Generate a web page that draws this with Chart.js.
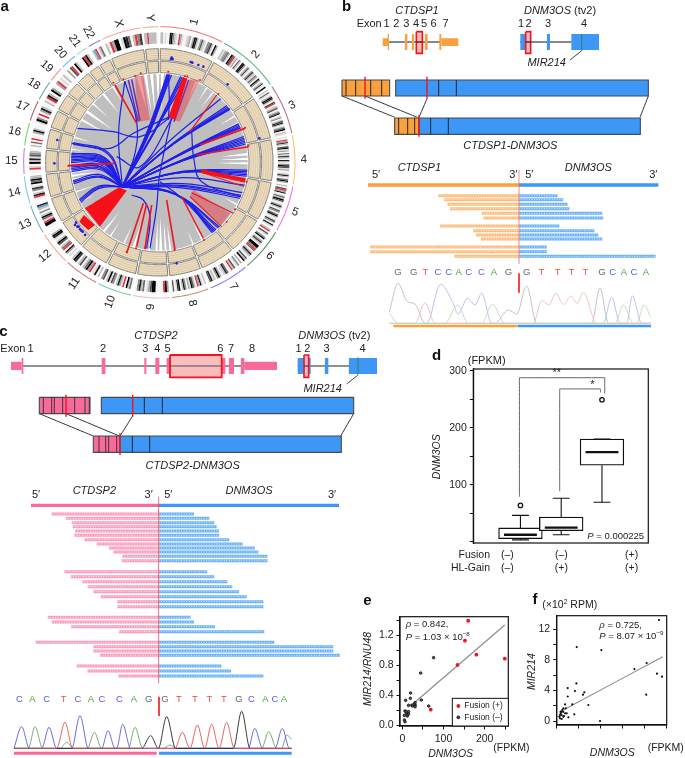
<!DOCTYPE html>
<html><head><meta charset="utf-8">
<style>html,body{margin:0;padding:0;background:#fff;width:685px;height:758px;overflow:hidden}canvas{position:absolute}</style>
<script src="https://cdn.jsdelivr.net/npm/chart.js@4"></script></head><body>
<script>
/* ---------- panel a : circos ---------- */
const chromNames=['1','2','3','4','5','6','7','8','9','10','11','12','13','14','15','16','17','18','19','20','21','22','X','Y'];
const chromMb=[249,243,198,191,181,171,159,146,141,135,135,133,115,107,102,90,81,78,59,63,48,51,155,59];
const chromArc=['#f47a7a','#66b383','#b5749f','#fbc56c','#f073e6','#4f9c5c','#8080f0','#c98d7e','#f0b9d8','#70cf98','#d87d7d','#f9a88c','#70a8dc','#70d8d0','#c880e0','#66e06a','#b06262','#60b0a0','#f09090','#70b0f0','#90f0c0','#a070d0','#f9a8a0','#e8b890'];
const chromBands=['220100894210r31001230398203621045720930','0213452096r13052089402610372153084026109','20510398207r01360258014027820369021','10r3720691305173082049613002820593','206r380152961038206405920173081','2r06104903720994r5028310629','3041062r0058210394021860','20183r02691304820971060','39r000099631052840','05290r1382046192064','20810r39520620792','10380r5206920189300','0099r15920402b80','00r820471095932','00r1092816420','2050r00039200','1940r03820','20r820930','3r01020','306r0920','09r920','2br0250','20r3990198502r47','22r222220'];
const innerDiscGaps=[[345,348,170],[350,352,150],[354,356,140],[358,0,165],[1,3,150],[15,16.5,190],[24,25.5,205],[32,33,215],[37,38,205],[58,59,215],[63,64,205],[84,85.5,190],[87,88.5,175],[90,91.5,165],[96,97,200],[118,119,215],[150,151.5,205],[157,158,220],[172,173.5,190],[175,176.5,180],[178,180,165],[181,182.5,175],[186,187,210],[196,197.5,190],[203,204,205],[213,214,215],[218,219.5,190],[243,244,220],[250,251,205],[258,259.5,190],[260.5,262,185],[263,265,170],[278,279,220],[286,287,215],[298,299.5,180],[304,306,170],[311,312,205],[320,321.5,190],[328,329,215]];
const hubFan=[[5,8],[5.5,9],[6,10],[6.5,11],[7,12],[8,6],[14,6],[15,5],[16,4],[18,-2],[44,-8],[50,-10],[51,-10],[52,-12],[52.5,-13],[53,-14],[64,-5],[65,-5],[66,-6],[67,-8],[73,-6],[74,-7],[75,-8],[76,-10],[77,-12],[78,-14],[95,-22],[96,-23],[97,-24],[98,-25],[99,-28],[105,-25],[110,-18],[112,-17],[113,-16],[114,-14],[137,-40],[138,-42],[140,-46],[141,-48],[142,-50],[143,-54],[243,20],[244,21],[245,22],[256,24],[257,25],[258,28],[264,30],[265,32],[266,35],[267,32],[268,36],[270,38],[271,39],[272,40],[273,41],[274,42],[275,43],[276,44],[282,46],[283,48],[337,-15]];
const blueChords=[[[232,385],[340,395],[420,410],[520,345]],[[215,430],[330,445],[400,400],[510,350]],[[375,245],[410,365],[405,460],[372,548]],[[450,745],[470,620],[478,530],[515,350]],[[440,745],[450,650],[430,600],[395,585]],[[575,395],[582,480],[605,545],[722,590]],[[690,327],[620,365],[575,395]],[[505,228],[508,300],[505,360]],[[722,384],[640,410],[590,440]],[[640,695],[590,640],[540,590],[480,545]],[[350,470],[420,500],[520,350]]];
const redLines=[[345,255,410,370,1.6],[650,285,570,395,1.2],[735,385,600,435,1.8],[745,440,590,465,1.6],[525,750,500,600,1.6],[610,715,545,590,1.4],[380,760,430,610,1.6],[410,740,440,610,1.6],[435,745,455,615,1.6],[205,497,345,490,1.6],[700,640,575,578,1.2],[665,680,570,590,1.2],[732,560,600,515,1]];
const redSolidWedges=[[[548,232],[562,236],[525,358],[505,352]],[[737,535],[735,548],[605,520],[605,508]],[[357,562],[380,572],[300,680],[255,625]],[[252,645],[285,675],[265,690],[238,665]]];
const redPaleWedges=[[[405,228],[430,228],[450,360],[415,365]],[[570,238],[597,240],[540,365],[520,360]],[[690,640],[665,675],[570,590],[580,570]]];
const purpleLines=[[385,240,415,365],[395,238,420,362],[566,240,522,365]];
const trackBlue=[[515,173],[518,177],[513,177],[572,186],[577,188],[595,195],[610,200],[683,253],[778,415],[172,420],[163,490],[530,790],[225,675],[232,680],[240,688],[248,695],[255,705],[228,668],[236,680],[244,692]];
const trackRed=[[505,215],[555,228],[562,229],[600,240],[655,282],[735,383],[745,437],[740,545],[705,628],[680,665],[612,720],[523,750],[435,745],[408,745],[380,755],[205,497],[340,248],[370,238],[405,228],[422,220]];

/* ---------- panel b ---------- */
const b1Utr=[[128,145],[304,355]];
const b1Exons=[[143,147],[195,202],[216,222],[228,248],[255,263],[298,304]];
const b1ExonNums=[['1',140],['2',169],['3',199],['4',228],['5',252],['6',281],['7',317]];
const b2Exons=[[541,563],[563,572],[621,630],[694,777]];
const b2ExonNums=[['1',543],['2',566],['3',624],['4',732]];
const bOrangeDiv=[18,47,92,125];const bBlueDiv=[296,349];
const bFusOrangeDiv=[176,203,224];const bFusBlueDiv=[272,325];
const bReads=[[205,563,107],[222,580,119],[232,593,133],[240,598,146],[335,697,160],[340,700,174],[210,568,198],[310,673,212],[318,685,225],[333,697,237],[0,530,261],[0,530,275],[253,857,289]];
const bBases=[['G',84],['G',131],['T',166],['C',204],['C',236],['A',266],['C',296],['C',334],['A',372],['G',415],['G',470],['T',514],['T',563],['T',604],['T',646],['G',696],['C',728],['A',762],['C',792],['A',828]];
const bTraceG=[[58,455],[84,370],[112,425],[135,432],[165,490],[375,490],[415,450],[440,462],[470,378],[500,490],[665,490],[690,383],[715,490],[842,490]];
const bTraceC=[[58,490],[170,490],[212,373],[245,420],[265,462],[292,415],[315,435],[335,400],[365,490],[700,490],[725,412],[750,490],[770,490],[787,408],[815,490],[842,490]];
const bTraceT=[[58,460],[85,490],[135,490],[165,428],[195,490],[490,490],[515,422],[537,435],[557,400],[580,433],[603,408],[622,430],[640,397],[680,490],[842,490]];
const bTraceA=[[58,490],[225,490],[263,435],[295,490],[335,490],[367,433],[405,490],[735,490],[760,435],[790,490],[800,490],[822,435],[842,470]];

/* ---------- panel c ---------- */
const c1Utr=[[33,65],[733,831]];
const c1Exons=[[65,70],[305,316],[433,439],[466,478],[500,510],[665,676],[687,702],[723,733]];
const c1ExonNums=[['1',92],['2',309],['3',436],['4',472],['5',503],['6',661],['7',693],['8',756]];
const c2Exons=[[893,932],[975,985],[1047,1131]];
const c2ExonNums=[['1',896],['2',922],['3',980],['4',1088]];
const cPinkDiv=[130,155,163,188,224,255,268];const cBlueDiv=[433,487];
const cFusPinkDiv=[297,317,326,350];const cFusBlueDiv=[397,449];
const cReads=[[155,582,102],[197,628,115],[215,643,128],[218,650,140],[225,657,153],[223,657,166],[253,688,179],[290,728,192],[327,765,204],[340,775,216],[367,803,229],[365,803,242],[193,622,275],[212,643,290],[247,682,305],[263,697,320],[280,717,335],[302,740,350],[352,790,365],[352,790,380],[143,572,412],[155,582,426],[213,645,440],[357,793,455],[107,823,487],[280,1000,500],[280,1000,513],[300,1020,526],[230,664,558],[262,693,573],[355,790,588]];
const cBases=[['C',58],['A',97],['C',140],['T',191],['C',234],['A',273],['C',306],['C',358],['A',402],['G',446],['G',495],['T',537],['T',585],['T',628],['T',672],['G',717],['C',754],['A',796],['C',825],['A',852]];
const cTraceG=[[42,805],[425,805],[452,767],[475,805],[500,710],[527,805],[700,805],[725,694],[750,805],[875,805]];
const cTraceC=[[42,805],[65,740],[88,805],[125,805],[147,742],[170,805],[215,805],[240,707],[265,805],[305,805],[324,752],[345,805],[350,805],[368,733],[392,805],[745,805],[764,745],[788,805],[825,805],[847,745],[868,805],[875,805]];
const cTraceT=[[42,805],[170,805],[195,727],[218,805],[525,805],[547,757],[570,805],[592,735],[614,805],[635,733],[657,805],[680,727],[703,805],[875,805]];
const cTraceA=[[42,805],[85,805],[105,740],[128,805],[180,805],[200,787],[220,805],[262,805],[283,757],[305,805],[385,805],[405,742],[428,805],[490,805],[510,795],[530,805],[785,805],[806,755],[830,805],[845,805],[860,765],[875,778]];

/* ---------- panel d ---------- */
const groupPos=[1,2,3];
const boxQ1=[5,19,134],boxMedian=[12,24.5,157],boxQ3=[24,43,180],whiskerLo=[3,12,69],whiskerHi=[46,76,180];
const outlierX=[1,3],outlierY=[63.5,249];
const bracketOuter=[[0.975,78.6],[0.975,287.7],[3.068,287.7],[3.068,260]];
const bracketInner=[[1.963,88.5],[1.963,268],[2.963,268],[2.963,262]];
const dTickLabels=[100,200,300];
const fusionRow=['(–)','(–)','(+)'],hlGainRow=['(–)','(+)','(+)'];

/* ---------- panel e ---------- */
const eFusionPos=[[160,1.39],[152,1.124],[180,.938],[249,.884],[134,.80],[69,.204]];
const eFusionNeg=[[76,.898],[44.5,.693],[20,.427],[8,.329],[19.5,.356],[46,.333],[64,.253],[15,.262],[23,.262],[31,.267],[28,.276],[31,.298],[31,.244],[6.5,.187],[15,.178],[10.5,.156],[5,.129],[12,.12],[5,.067],[6.5,.044],[15,.147],[9,.178],[25,.253]];
const eFit=[[22.7,.267],[249,1.333]];

/* ---------- panel f ---------- */
const fPoints=[[90.6,13.17],[15.8,9.65],[38.2,9.26],[68.2,6.78],[79.4,7.57],[88.8,6.17],[93.3,5.78],[79,3.43],[15.5,4.91],[7.6,4.3],[14.2,3.9],[22.7,3.74],[21.5,3.43],[7.6,3.2],[26.4,2.09],[37,0],[5.2,2.17],[11.8,2.17],[13.6,.87],[3.6,1.65],[5.8,1.65],[8.2,.48],[6.7,1],[3.6,1.2],[1.2,1],[2.1,.78],[4.2,.65],[.6,.35],[2.1,.26],[3.6,.57],[1.2,1.22],[2.7,1.43],[5.2,1],[0,.57],[.6,.78],[2.1,1.2]];
const fFit=[[3.6,1.43],[94,8.39]];

/* ---------- helpers ---------- */
const FONT='"Liberation Sans", Arial, sans-serif';
/* a tiny tension keeps Chart.js off its x-collapsing fast path, which would flatten near-vertical strokes */
const STRAIGHT=0.0001;
function pts(a){return a.map(p=>({x:p[0],y:p[1]}));}
function line(a,color,w,o){return Object.assign({data:pts(a),showLine:true,borderColor:color,borderWidth:w,pointRadius:0,backgroundColor:'transparent',tension:STRAIGHT},o||{});}
function poly(a,fill,stroke,w){const c=a.concat([a[0]]);return {data:pts(c),showLine:true,fill:'shape',backgroundColor:fill,borderColor:stroke||fill,borderWidth:stroke?(w||1):0,pointRadius:0,tension:STRAIGHT};}
function rect(x0,x1,y0,y1,fill,stroke,w){return poly([[x0,y0],[x1,y0],[x1,y1],[x0,y1]],fill,stroke,w);}
function dots(a,color,r){return {data:pts(a),showLine:false,pointRadius:r,backgroundColor:color,borderColor:color,borderWidth:0};}
function drawLabel(ctx,l){
  const size=l.size||11;ctx.save();ctx.translate(l.x/3,l.y/3);if(l.rot)ctx.rotate(l.rot*Math.PI/180);
  ctx.fillStyle=l.color||'#222';ctx.textBaseline='middle';ctx.textAlign='left';
  const parts=l.raw?[l.t]:l.t.split(/(\*[^*]+\*|\^\{[^}]+\})/).filter(s=>s);
  const run=parts.map(s=>{
    if(!l.raw&&s[0]==='*')return{t:s.slice(1,-1),f:'italic '+size+'px '+FONT,dy:0};
    if(!l.raw&&s[0]==='^')return{t:s.slice(2,-1),f:(size*.65)+'px '+FONT,dy:-size*.35};
    return{t:s,f:(l.bold?'bold ':'')+size+'px '+FONT,dy:0};});
  let tw=0;run.forEach(r=>{ctx.font=r.f;r.w=ctx.measureText(r.t).width;tw+=r.w;});
  let x=l.align==='left'?0:l.align==='right'?-tw:-tw/2;
  run.forEach(r=>{ctx.font=r.f;ctx.fillText(r.t,x,r.dy);x+=r.w;});
  ctx.restore();
}
function host(left,top,w,h,z){const c=document.createElement('canvas');c.width=w;c.height=h;c.style.cssText='left:'+left+'px;top:'+top+'px;width:'+w+'px;height:'+h+'px;z-index:'+(z||1);document.body.appendChild(c);return c;}
function annot(labels,extra){return {id:'annot',afterDraw(c){if(extra)extra(c);labels.forEach(l=>drawLabel(c.ctx,l));}};}
function schematic(left,top,w,h,datasets,labels,z){
  /* Chart.js paints the first dataset last, so hand them over back to front */
  return new Chart(host(left,top,w,h,z),{type:'scatter',data:{datasets:datasets.slice().reverse()},plugins:[annot(labels)],options:{responsive:false,animation:false,events:[],clip:false,layout:{padding:0,autoPadding:false},plugins:{legend:{display:false},tooltip:{enabled:false}},
   scales:{x:{type:'linear',min:0,max:w*3,display:false},y:{type:'linear',min:0,max:h*3,reverse:true,display:false}}}});
}
const frame=c=>{const a=c.chartArea,x=c.ctx;x.save();x.strokeStyle='#111';x.lineWidth=1.2;x.strokeRect(a.left,a.top,a.right-a.left,a.bottom-a.top);x.restore();};

/* ---------- build a ---------- */
(function(){
 const cx=478,cy=487;
 const polar=(a,r)=>{const t=a*Math.PI/180;return [cx+r*Math.sin(t),cy-r*Math.cos(t)];};
 const arc=(a0,a1,r)=>{const n=Math.max(2,Math.ceil((a1-a0)/2)),o=[];for(let i=0;i<=n;i++)o.push(polar(a0+(a1-a0)*i/n,r));return o;};
 const total=chromMb.reduce((s,v)=>s+v,0),gap=1,k=(360-gap*24)/total;
 const ds=[],labels=[];let pos=0.5;
 const disc=arc(0,360,265);
 const sectors=[];
 chromMb.forEach((mb,i)=>{const a0=pos,a1=pos+mb*k;sectors.push([a0,a1]);pos=a1+gap;});
 sectors.forEach(([a0,a1],i)=>{
  ds.push(line(arc(a0,a1,407),chromArc[i],1.1));
  const bands=chromBands[i],col=[],p=[];
  for(let j=0;j<=bands.length;j++){p.push(polar(a0+(a1-a0)*j/bands.length,373));
    const ch=bands[j];if(ch==='r')col.push('#e8303a');else if(ch==='b')col.push('#5fa0c8');else if(ch!==undefined){const g=Math.round(245-parseInt(ch)*27);col.push('rgb('+g+','+g+','+g+')');}}
  ds.push(line(p,'#ccc',11.4,{segment:{borderColor:ctx=>col[ctx.p0DataIndex]}}));
  [[307,341],[269,303]].forEach(([r0,r1])=>{
    ds.push(poly(arc(a0,a1,r1).concat(arc(a0,a1,r0).reverse()),'#eedcbc','#777',1));
    for(let q=1;q<5;q++)ds.push(line(arc(a0+.2,a1-.2,r0+(r1-r0)*q/5),'rgba(160,150,130,.55)',.5));
  });
  const mid=(a0+a1)/2,nm=chromNames[i];
  labels.push({x:polar(mid,nm.length>1?444:434)[0],y:polar(mid,nm.length>1?444:434)[1],t:nm,size:11.5,rot:mid<180?mid-90:mid-270});
 });
 ds.push(poly(disc,'#bfbfbf'));
 innerDiscGaps.forEach(([a0,a1,r])=>{const b=a1<a0?a1+360:a1;ds.push(poly([polar(a0,266),polar(b,266),polar((a0+b)/2,r)],'#fff'));});
 const hub=[367,560];
 redPaleWedges.forEach(w=>ds.push(poly(w,'rgba(236,60,70,.5)')));
 purpleLines.forEach(l=>ds.push(line([[l[0],l[1]],[l[2],l[3]]],'#6a2fb0',1.5)));
 hubFan.forEach(([a,bow])=>{const e=polar(a,265),dx=e[0]-hub[0],dy=e[1]-hub[1],L=Math.hypot(dx,dy);
   const m=[(hub[0]+e[0])/2-dy/L*bow,(hub[1]+e[1])/2+dx/L*bow];
   ds.push(line([hub,m,e],'#1f1fe8',1.2,{tension:.4}));});
 blueChords.forEach(c=>ds.push(line(c,'#1f1fe8',1.2,{tension:.4})));
 redLines.forEach(l=>ds.push(line([[l[0],l[1]],[l[2],l[3]]],'#f0141e',l[4])));
 redSolidWedges.forEach(w=>ds.push(poly(w,'#f5101a')));
 ds.push(dots(trackBlue,'#1f1fe8',1.3));ds.push(dots(trackRed,'#f0141e',1));
 labels.push({x:14,y:22,t:'a',bold:1,size:15,color:'#111'});
 schematic(0,0,340,320,ds,labels,1);
})();

/* ---------- shared gene panels ---------- */
const ORANGE='#f9a03f',BLUE='#3d97f7',PINK='#f96a9c',RED='#f0141e',EDGE='#4a4a4a';
function baseColor(b){return {G:'#666666',T:'#e8504a',C:'#5a5aee',A:'#3caa3c'}[b];}
function reads(rs,split,colA,colB){const o=[];rs.forEach(([l,r,y])=>{
  o.push(line([[l,y],[split,y]],colA,3));o.push(line([[split,y],[r,y]],colB,3));
  o.push(line([[l,y],[split,y]],'rgba(255,255,255,.75)',1,{borderDash:[1,1.5]}));
  o.push(line([[split,y],[r,y]],'rgba(255,255,255,.75)',1,{borderDash:[1,1.5]}));});return o;}

/* ---------- build b ---------- */
(function(){
 const ds=[],L=[];
 ds.push(line([[145,126],[300,126]],'#111',1.2));ds.push(line([[540,126],[695,126]],'#111',1.2));
 b1Utr.forEach(e=>ds.push(rect(e[0],e[1],115,138,ORANGE)));
 b1Exons.forEach(e=>ds.push(rect(e[0],e[1],102,150,ORANGE)));
 ds.push(rect(229,247,95,160,'rgba(250,185,190,.9)',RED,1.6));ds.push(line([[229,126],[247,126]],'#111',1.2));
 b2Exons.forEach(e=>ds.push(rect(e[0],e[1],102,150,BLUE)));
 ds.push(rect(557,572,95,160,'rgba(250,185,190,.9)',RED,1.6));ds.push(line([[557,126],[572,126]],'#111',1.2));
 ds.push(line([[725,102],[725,152]],'#3e7d4a',1));ds.push(line([[725,152],[690,180]],'#333',1));
 ds.push(rect(6,149,240,288,ORANGE,EDGE,1.1));ds.push(rect(167,925,240,288,BLUE,EDGE,1.1));
 bOrangeDiv.forEach(x=>ds.push(line([[x,240],[x,288]],'#222',1)));bBlueDiv.forEach(x=>ds.push(line([[x,240],[x,288]],'#222',1)));
 [[6,288,165,352],[75,288,232,352],[261,296,237,352],[925,288,900,352]].forEach(c=>ds.push(line([[c[0],c[1]],[c[2],c[3]]],'#333',1)));
 ds.push(rect(164,237,354,403,ORANGE,EDGE,1.1));ds.push(rect(237,901,354,403,BLUE,EDGE,1.1));
 bFusOrangeDiv.forEach(x=>ds.push(line([[x,354],[x,403]],'#222',1)));bFusBlueDiv.forEach(x=>ds.push(line([[x,354],[x,403]],'#222',1)));
 ds.push(line([[75,230],[75,296]],RED,1.4));ds.push(line([[261,230],[261,296]],RED,1.4));ds.push(line([[237,345],[237,410]],RED,1.4));
 const dy=480,dx=90;
 ds.push(line([[84,75+dy],[dx+447,75+dy]],ORANGE,3.4));ds.push(line([[dx+447,75+dy],[dx+865,75+dy]],BLUE,3.4));
 reads(bReads.map(r=>[r[0]+dx,r[1]+dx,r[2]+dy]),dx+447,'rgba(249,170,90,.8)','rgba(80,165,245,.85)').forEach(d=>ds.push(d));
 ds.push(line([[dx+447,30+dy],[dx+447,312+dy]],'rgba(240,90,90,.7)',1));
 const Y=(a)=>a.map(p=>[p[0]+dx,p[1]+dy]);
 ds.push(line(Y(bTraceG),'#bdbdbd',.9,{cubicInterpolationMode:'monotone'}));
 ds.push(line(Y(bTraceC),'#b9b9f2',.9,{cubicInterpolationMode:'monotone'}));
 ds.push(line(Y(bTraceT),'#f4bcbc',.9,{cubicInterpolationMode:'monotone'}));
 ds.push(line(Y(bTraceA),'#bcdcbc',.9,{cubicInterpolationMode:'monotone'}));
 ds.push(line([[dx+70,498+dy],[dx+442,498+dy]],ORANGE,2.6));ds.push(line([[dx+443,498+dy],[dx+843,498+dy]],BLUE,2.6));
 ds.push(line([[dx+447,340+dy],[dx+447,398+dy]],RED,1.6));
 L.push({x:20,y:22,t:'b',bold:1,size:15,color:'#111'},{x:231,y:33,t:'*CTDSP1*'},{x:660,y:33,t:'*DNM3OS* (tv2)'},{x:50,y:73,t:'Exon',align:'left'},{x:620,y:188,t:'*MIR214*'},{x:511,y:439,t:'*CTDSP1-DNM3OS*'});
 b1ExonNums.forEach(e=>L.push({x:e[1],y:73,t:e[0]}));b2ExonNums.forEach(e=>L.push({x:e[1],y:73,t:e[0]}));
 L.push({x:dx+148,y:24+dy,t:'*CTDSP1*'},{x:dx+655,y:24+dy,t:'*DNM3OS*'},{x:dx+430,y:44+dy,t:'3′'},{x:dx+478,y:44+dy,t:'5′'},{x:dx+850,y:44+dy,t:'3′'},{x:108,y:44+dy,t:'5′'});
 bBases.forEach(b=>L.push({x:b[1]+dx,y:338+dy,t:b[0],size:9.5,color:baseColor(b[0])}));
 schematic(340,0,345,335,ds,L,2);
})();

/* ---------- build c ---------- */
(function(){
 const ds=[],L=[];
 ds.push(line([[68,138],[830,138]],'#222',1.2));ds.push(line([[893,138],[1050,138]],'#222',1.2));
 c1Utr.forEach(e=>ds.push(rect(e[0],e[1],125,150,PINK)));
 c1Exons.forEach(e=>ds.push(rect(e[0],e[1],114,162,PINK)));
 ds.push(rect(510,665,105,172,'rgba(250,185,185,.95)',RED,1.8));ds.push(line([[510,138],[665,138]],'#555',1));
 c2Exons.forEach(e=>ds.push(rect(e[0],e[1],114,162,BLUE)));
 ds.push(rect(912,926,105,172,'rgba(250,185,190,.9)',RED,1.6));ds.push(line([[912,138],[926,138]],'#222',1));
 ds.push(line([[1074,112],[1074,165]],'#3e7d4a',1));ds.push(line([[1074,165],[1040,192]],'#333',1));
 ds.push(rect(118,270,232,281,PINK,EDGE,1.1));ds.push(rect(304,1061,232,281,BLUE,EDGE,1.1));
 cPinkDiv.forEach(x=>ds.push(line([[x,232],[x,281]],'#333',1)));cBlueDiv.forEach(x=>ds.push(line([[x,232],[x,281]],'#222',1)));
 [[118,281,280,348],[198,281,358,348],[398,288,360,348],[1061,281,1022,348]].forEach(c=>ds.push(line([[c[0],c[1]],[c[2],c[3]]],'#333',1)));
 ds.push(rect(280,360,348,397,PINK,EDGE,1.1));ds.push(rect(360,1024,348,397,BLUE,EDGE,1.1));
 cFusPinkDiv.forEach(x=>ds.push(line([[x,348],[x,397]],'#333',1)));cFusBlueDiv.forEach(x=>ds.push(line([[x,348],[x,397]],'#222',1)));
 ds.push(line([[198,224],[198,290]],RED,1.4));ds.push(line([[398,224],[398,290]],RED,1.4));ds.push(line([[360,340],[360,405]],RED,1.4));
 const dy=480;
 ds.push(line([[93,76+dy],[476,76+dy]],PINK,3.4));ds.push(line([[476,76+dy],[1017,76+dy]],BLUE,3.4));
 reads(cReads.map(r=>[r[0],r[1],r[2]+dy]),476,'rgba(250,130,170,.8)','rgba(80,165,245,.85)').forEach(d=>ds.push(d));
 ds.push(line([[476,50+dy],[476,610+dy]],'rgba(240,70,70,.8)',1));
 const Y=a=>a.map(p=>[p[0],p[1]+dy]);
 ds.push(line(Y(cTraceA),'#6aa56a',.9,{cubicInterpolationMode:'monotone'}));
 ds.push(line(Y(cTraceC),'#5a5ae0',.9,{cubicInterpolationMode:'monotone'}));
 ds.push(line(Y(cTraceG),'#222',.9,{cubicInterpolationMode:'monotone'}));
 ds.push(line(Y(cTraceT),'#e8504a',.9,{cubicInterpolationMode:'monotone'}));
 ds.push(line([[42,820+dy],[470,820+dy]],PINK,3));ds.push(line([[477,820+dy],[875,820+dy]],BLUE,3));
 ds.push(line([[477,650+dy],[477,708+dy]],RED,1.6));
 L.push({x:10,y:35,t:'c',bold:1,size:15,color:'#111'},{x:468,y:47,t:'*CTDSP2*'},{x:1003,y:47,t:'*DNM3OS* (tv2)'},{x:1,y:87,t:'Exon',align:'left'},{x:968,y:207,t:'*MIR214*'},{x:578,y:437,t:'*CTDSP2-DNM3OS*'});
 c1ExonNums.forEach(e=>L.push({x:e[1],y:87,t:e[0]}));c2ExonNums.forEach(e=>L.push({x:e[1],y:87,t:e[0]}));
 L.push({x:108,y:45+dy,t:'5′'},{x:283,y:33+dy,t:'*CTDSP2*'},{x:446,y:45+dy,t:'3′'},{x:505,y:45+dy,t:'5′'},{x:747,y:33+dy,t:'*DNM3OS*'},{x:996,y:45+dy,t:'3′'});
 cBases.forEach(b=>L.push({x:b[1],y:658+dy,t:b[0],size:9.5,color:baseColor(b[0])}));
 schematic(0,320,400,438,ds,L,2);
})();

/* ---------- axis helpers ---------- */
function axis(opts,fit,cb,step){return Object.assign({type:'linear',grid:{drawOnChartArea:false,drawTicks:true,tickLength:3.5,color:'#111',lineWidth:1},border:{color:'#111',width:1.2},
  afterFit:fit,ticks:{color:'#222',font:{family:FONT,size:10.5},padding:3,autoSkip:false,maxRotation:0,minRotation:0,includeBounds:false,stepSize:step,callback:cb}},opts);}
const baseOpts=(pad,x,y)=>({responsive:false,animation:false,events:[],layout:{autoPadding:false,padding:pad},plugins:{legend:{display:false},tooltip:{enabled:false}},scales:{x,y}});

/* ---------- build d ---------- */
(function(){
 const ds=[{type:'bar',label:'box',data:groupPos.map((x,i)=>({x,y:[boxQ1[i],boxQ3[i]]})),backgroundColor:'#fff',borderColor:'#111',borderWidth:1.3,borderSkipped:false,barThickness:43.7,order:2}];
 groupPos.forEach((x,i)=>{
  ds.push(Object.assign(line([[x,boxQ3[i]],[x,whiskerHi[i]]],'#111',1.1),{type:'scatter',order:3}));
  ds.push(Object.assign(line([[x,boxQ1[i]],[x,whiskerLo[i]]],'#111',1.1),{type:'scatter',order:3}));
  ds.push(Object.assign(line([[x-.207,whiskerHi[i]],[x+.207,whiskerHi[i]]],'#111',1.1),{type:'scatter',order:3}));
  ds.push(Object.assign(line([[x-.207,whiskerLo[i]],[x+.207,whiskerLo[i]]],'#111',1.1),{type:'scatter',order:3}));
  ds.push(Object.assign(line([[x-.403,boxMedian[i]],[x+.403,boxMedian[i]]],'#111',2.4),{type:'scatter',order:1}));
 });
 ds.push({type:'scatter',data:outlierX.map((x,i)=>({x,y:outlierY[i]})),pointRadius:2.2,pointBorderWidth:1.3,pointBorderColor:'#111',pointBackgroundColor:'#fff',showLine:false,order:0});
 ds.push(Object.assign(line(bracketOuter,'#555',.9),{type:'scatter',order:0}));
 ds.push(Object.assign(line(bracketInner,'#555',.9),{type:'scatter',order:0}));
 const L=[{x:110,y:48,t:'d',bold:1,size:15,color:'#111'},{x:260,y:62,t:'(FPKM)'},{x:110,y:350,t:'*DNM3OS*',rot:-90,size:10.5},
  {x:470,y:100,t:'**',raw:1,size:11},{x:577,y:135,t:'*',raw:1,size:11},{x:562,y:590,t:'*P* = 0.000225',align:'left',size:9.5},
  {x:270,y:645,t:'Fusion',align:'right',size:10.5},{x:270,y:684,t:'HL-Gain',align:'right',size:10.5}];
 [322,484,695].forEach((x,i)=>{L.push({x,y:645,t:fusionRow[i],size:10.5},{x,y:684,t:hlGainRow[i],size:10.5});});
 new Chart(host(400,340,285,235,3),{data:{datasets:ds},plugins:[annot(L,frame)],options:baseOpts({top:29,right:36.7,bottom:32,left:0},
  {type:'linear',min:.38,max:3.6,display:false},
  axis({min:-2.5,max:303},s=>{s.width=73.3;},v=>dTickLabels.includes(v)?String(v):'',50)) });
})();

/* ---------- build e ---------- */
(function(){
 const ds=[Object.assign(line(eFit,'#8a8a8a',1.1),{order:3}),
  {data:pts(eFusionNeg),showLine:false,pointRadius:1.3,pointBackgroundColor:'#555',pointBorderColor:'#111',pointBorderWidth:.8,order:2},
  {data:pts(eFusionPos),showLine:false,pointRadius:1.9,pointBackgroundColor:'#f0141e',pointBorderWidth:0,order:1}];
 const L=[{x:82,y:92,t:'e',bold:1,size:15,color:'#111'},{x:197,y:163,t:'*ρ* = 0.842,',align:'left',size:9.5},{x:197,y:202,t:'*P* = 1.03 × 10^{−8}',align:'left',size:9.5},
  {x:85,y:297,t:'*MIR214/RNU48*',rot:-90,size:10.5},{x:332,y:552,t:'*DNM3OS*',size:10.5},{x:460,y:535,t:'(FPKM)',align:'left',size:10.5},
  {x:373,y:408,t:'Fusion (+)',align:'left',size:8.5},{x:373,y:442,t:'Fusion (–)',align:'left',size:8.5}];
 const deco=c=>{frame(c);const x=c.ctx;x.save();x.fillStyle='#fff';x.strokeStyle='#111';x.lineWidth=1;x.fillRect(337/3,385/3,(505-337)/3,(468-385)/3);x.strokeRect(337/3,385/3,(505-337)/3,(468-385)/3);
   x.fillStyle='#f0141e';x.beginPath();x.arc(355/3,408/3,1.9,0,7);x.fill();x.fillStyle='#555';x.beginPath();x.arc(355/3,442/3,1.4,0,7);x.fill();x.stroke();x.restore();};
 new Chart(host(340,570,210,188,3),{type:'scatter',data:{datasets:ds},plugins:[annot(L,deco)],options:baseOpts({top:46.7,right:41.7},
   axis({min:-5.7,max:257.5,position:'bottom'},s=>{s.height=32;},v=>(v%100===0)?String(v):'',50),
   axis({min:-.013,max:1.444},s=>{s.width=60;},v=>(Math.round(v*10)%4===0)?v.toFixed(1):'',.2))});
})();

/* ---------- build f ---------- */
(function(){
 const ds=[Object.assign(line(fFit,'#8a8a8a',1.1),{order:2}),{data:pts(fPoints),showLine:false,pointRadius:1.1,pointBackgroundColor:'#111',pointBorderWidth:0,order:1}];
 const L=[{x:60,y:90,t:'f',bold:1,size:15,color:'#111'},{x:82,y:106,t:'(×10^{2} RPM)',align:'left',size:10.5},{x:253,y:165,t:'*ρ* = 0.725,',align:'left',size:9.5},{x:253,y:200,t:'*P* = 8.07 × 10^{−9}',align:'left',size:9.5},
  {x:52,y:305,t:'*MIR214*',rot:-90,size:10.5},{x:292,y:550,t:'*DNM3OS*',size:10.5},{x:398,y:533,t:'(FPKM)',align:'left',size:10.5}];
 new Chart(host(515,570,170,188,3),{type:'scatter',data:{datasets:ds},plugins:[annot(L,frame)],options:baseOpts({top:45.7,right:18.3},
   axis({min:-2.4,max:97.6,position:'bottom'},s=>{s.height=33;},v=>(v%40===0)?String(v):'',20),
   axis({min:-.52,max:13.74},s=>{s.width=41.7;},v=>(v%4===0)?String(v):'',2))});
})();
</script></body></html>
